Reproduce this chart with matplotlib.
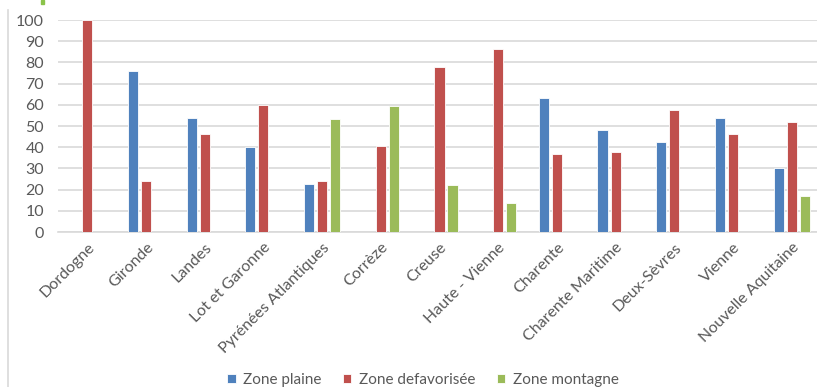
import numpy as np
import matplotlib
matplotlib.use("Agg")
import matplotlib.pyplot as plt
from matplotlib.patches import Rectangle
from matplotlib.lines import Line2D

plt.rcParams['font.family'] = ['Lato', 'DejaVu Sans']

# -------------------------------------------------
# DATA (% of surface per zone type)
# -------------------------------------------------
departements = ["Dordogne", "Gironde", "Landes", "Lot et Garonne",
                "Pyrénées Atlantiques", "Corrèze", "Creuse", "Haute - Vienne",
                "Charente", "Charente Maritime", "Deux-Sèvres", "Vienne",
                "Nouvelle Aquitaine"]
zone_plaine = [0, 76, 54, 40, 22.5, 0, 0, 0, 63.2, 48.3, 42.3, 54, 30]
zone_defavorisee = [100, 24, 46, 60, 24, 40.7, 77.8, 86.3, 36.7, 37.7, 57.6, 46, 51.7]
zone_montagne = [0, 0, 0, 0, 53.3, 59.3, 22, 13.5, 0, 0, 0, 0, 17]

series = [("Zone plaine", zone_plaine, "#4F81BD"),
          ("Zone defavorisée", zone_defavorisee, "#C0504D"),
          ("Zone montagne", zone_montagne, "#9BBB59")]

W, H = 817, 387
fig = plt.figure(figsize=(W / 100, H / 100), dpi=100)
ax = fig.add_axes([58 / W, 155 / H, 763 / W, 212 / H])

x = np.arange(len(departements))
step = 0.222
width = 0.172
for i, (name, vals, col) in enumerate(series):
    ax.bar(x + (i - 1) * step, vals, width, color=col, edgecolor="white",
           linewidth=0.6, zorder=3, label=name)

ax.set_xlim(-0.5, len(departements) - 0.5)
ax.set_ylim(0, 100)
ax.set_yticks(range(0, 101, 10))
ax.yaxis.grid(True, color="#D9D9D9", linewidth=1.2, zorder=0)
for s in ["top", "right", "left"]:
    ax.spines[s].set_visible(False)
ax.spines["bottom"].set_color("#D9D9D9")
ax.spines["bottom"].set_linewidth(1.2)
ax.tick_params(axis="both", length=0, labelsize=11.5, labelcolor="#595959")
ax.tick_params(axis="y", pad=10)
ax.set_xticks(x)
ax.set_xticklabels(departements, rotation=45, ha="right", rotation_mode="anchor")
ax.tick_params(axis="x", pad=6)

# chart frame edge and leftover mark on the top-left
fig.add_artist(Line2D([8 / W, 8 / W], [0, 1 - 10 / H], color="#D9D9D9", linewidth=1.2))
fig.add_artist(Rectangle((41 / W, 1 - 4 / H), 2.5 / W, 4 / H, color="#8BC34A"))

handles, labels = ax.get_legend_handles_labels()
fig.legend(handles, labels, loc="center", bbox_to_anchor=(423 / W, 7 / H),
           ncol=3, frameon=False, fontsize=11, labelcolor="#595959",
           handlelength=0.55, handleheight=0.55, handletextpad=0.5,
           columnspacing=1.4)

fig.savefig("out.png", dpi=100)
